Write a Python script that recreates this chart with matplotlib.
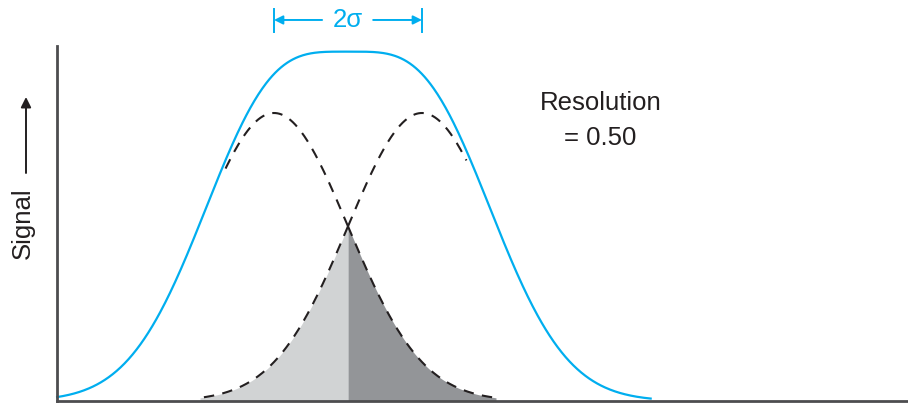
import numpy as np
import matplotlib
matplotlib.use("Agg")
import matplotlib.pyplot as plt

plt.rcParams["font.family"] = ["Liberation Sans", "DejaVu Sans"]

# two equal gaussian peaks, x in units of sigma measured from the midpoint
resolution = 0.50
sigma = 1.0
peak_height = 1.0
separation = 4 * sigma * resolution          # R = dx / 4 sigma
peak_centers = [-separation / 2, separation / 2]

# where each trace is drawn (sigma units from the midpoint)
sum_extent = [-3.93, 4.09]
dashed_extents = [[-1.66, 2.0], [-2.0, 1.6]]
shade_extent = [-2.0, 2.0]

cyan = "#00aeef"
ink = "#231f20"
axis_grey = "#4d4d4f"
light_grey = "#d1d3d4"
dark_grey = "#939598"


def peak(x, mu):
    return peak_height * np.exp(-0.5 * ((x - mu) / sigma) ** 2)


W, H = 908, 407
fig = plt.figure(figsize=(W / 100, H / 100), dpi=100)
x0, y0, y_top = 57, 401, 46          # axis corner and top of y axis
ax = fig.add_axes([x0 / W, (H - y0) / H, (W - x0) / W, (y0 - y_top) / H])
px_sigma, px_unit = 74.0, 288.0
ax.set_xlim((x0 - 348) / px_sigma, (W - 348) / px_sigma)
ax.set_ylim(0, (y0 - y_top) / px_unit)

for s in ["top", "right"]:
    ax.spines[s].set_visible(False)
for s in ["left", "bottom"]:
    ax.spines[s].set_color(axis_grey)
    ax.spines[s].set_linewidth(2.0)
ax.set_xticks([])
ax.set_yticks([])

# overlap area: left tail of right peak (light), right tail of left peak (dark)
xl = np.linspace(shade_extent[0], 0, 200)
xr = np.linspace(0, shade_extent[1], 200)
ax.fill_between(xl, 0, peak(xl, peak_centers[1]), color=light_grey, lw=0)
ax.fill_between(xr, 0, peak(xr, peak_centers[0]), color=dark_grey, lw=0)

# individual peaks, dashed outward from the crossing point
for mu, (lo, hi) in zip(peak_centers, dashed_extents):
    for a, b in [(0, lo), (0, hi)]:
        xs = np.linspace(a, b, 300)
        ax.plot(xs, peak(xs, mu), color=ink, lw=1.5,
                linestyle=(0, (5, 4)), dash_capstyle="butt")

# observed signal
xs = np.linspace(sum_extent[0], sum_extent[1], 600)
total = sum(peak(xs, mu) for mu in peak_centers)
ax.plot(xs, total, color=cyan, lw=1.6, clip_on=False)

# 2 sigma bracket above the peak
y_arrow, y_lo, y_hi = 1.323, 1.281, 1.361
for xb in peak_centers:
    ax.plot([xb, xb], [y_lo, y_hi], color=cyan, lw=1.4, clip_on=False)
arrow = dict(arrowstyle="-|>", color=cyan, lw=1.4, mutation_scale=13,
             shrinkA=0, shrinkB=0)
ax.annotate("", xy=(peak_centers[0], y_arrow), xytext=(-0.35, y_arrow),
            arrowprops=arrow, annotation_clip=False)
ax.annotate("", xy=(peak_centers[1], y_arrow), xytext=(0.34, y_arrow),
            arrowprops=arrow, annotation_clip=False)
ax.text(0, y_arrow, f"{separation / sigma:g}σ", color=cyan, fontsize=18.5,
        ha="center", va="center", clip_on=False)

ax.text(3.41, 1.0104, "Resolution", color=ink, fontsize=18.5,
        ha="center", va="baseline")
ax.text(3.41, 0.889, f"= {resolution:.2f}", color=ink, fontsize=18.5,
        ha="center", va="baseline")

# y axis label with arrow
fig.text(23 / W, 1 - 223 / H, "Signal", rotation=90, color=ink,
         fontsize=18.5, ha="center", va="center")
ax.annotate("", xy=(26 / W, 1 - 97 / H), xytext=(26 / W, 1 - 173 / H),
            xycoords="figure fraction", textcoords="figure fraction",
            arrowprops=dict(arrowstyle="-|>", color=ink, lw=1.4,
                            mutation_scale=15, shrinkA=0, shrinkB=0))

fig.savefig("out.png", dpi=100)
